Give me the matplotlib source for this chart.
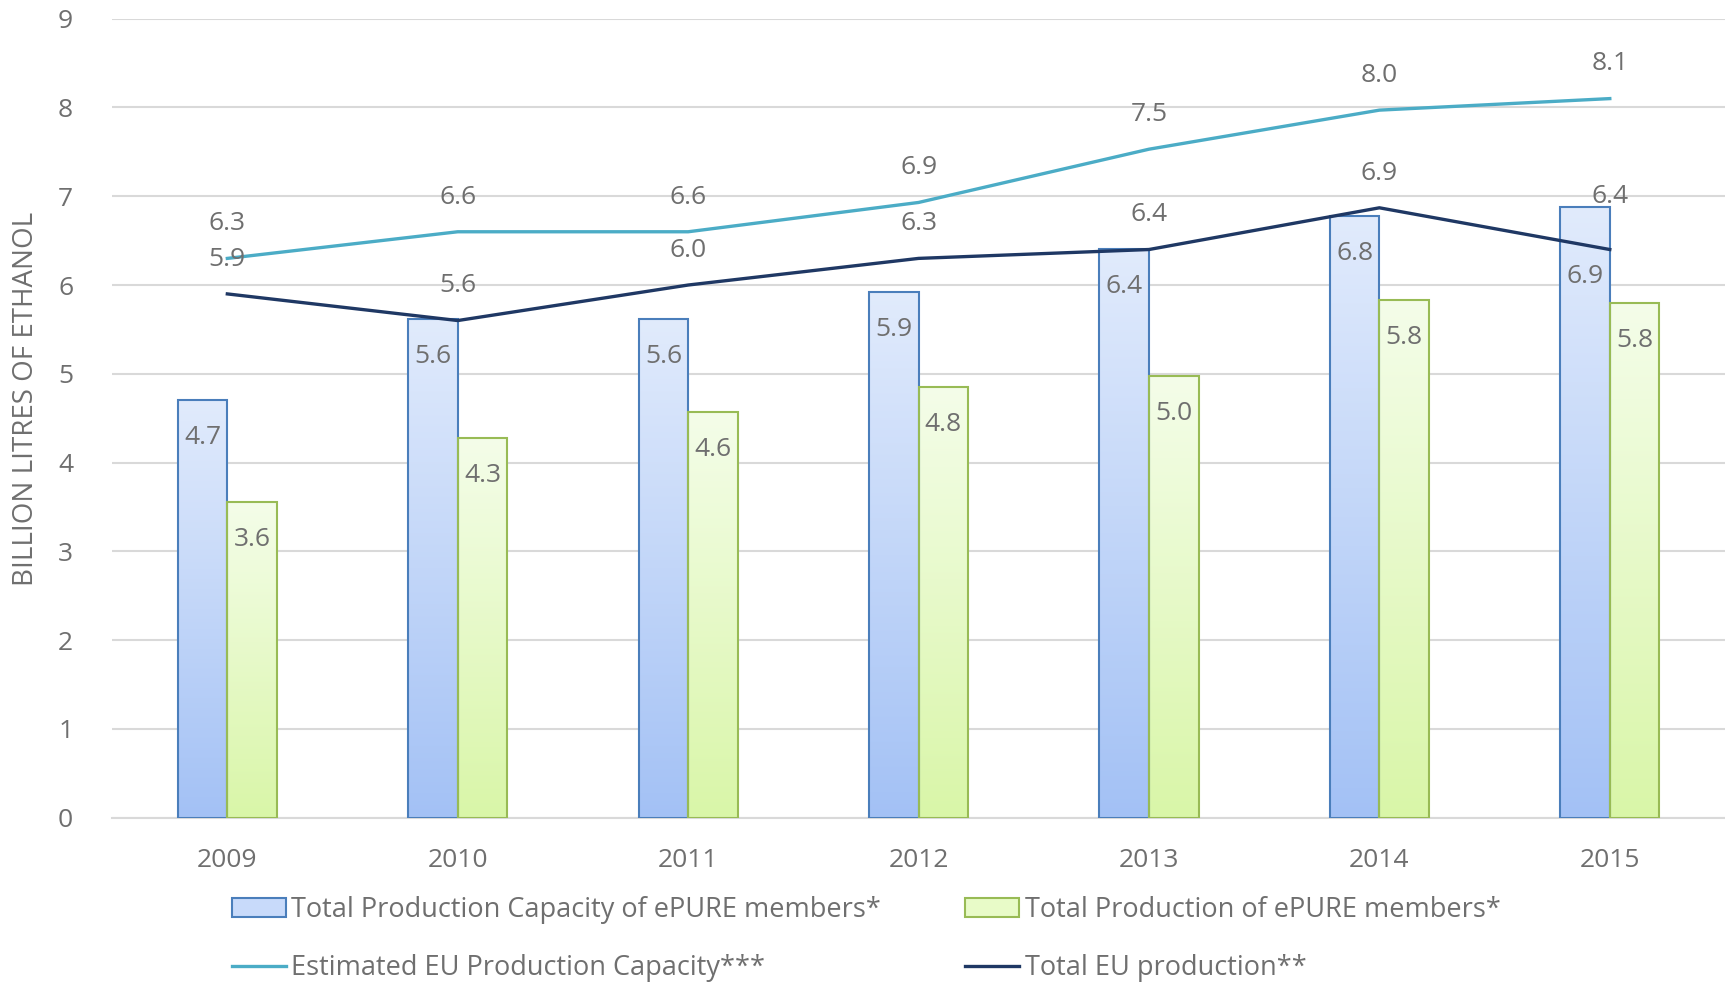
import numpy as np
import matplotlib.pyplot as plt
from matplotlib.patches import Patch
from matplotlib.lines import Line2D

years = ['2009', '2010', '2011', '2012', '2013', '2014', '2015']
capacity_members = [4.7, 5.6, 5.6, 5.9, 6.4, 6.8, 6.9]
production_members = [3.6, 4.3, 4.6, 4.8, 5.0, 5.8, 5.8]
eu_capacity = [6.3, 6.6, 6.6, 6.93, 7.53, 7.97, 8.1]
eu_production = [5.9, 5.6, 6.0, 6.3, 6.4, 6.87, 6.4]

# tops of the bars as drawn (labels are rounded)
capacity_top = [4.7, 5.62, 5.62, 5.92, 6.41, 6.78, 6.88]
production_top = [3.56, 4.28, 4.57, 4.85, 4.97, 5.83, 5.8]

plt.rcParams['font.family'] = ['Open Sans', 'DejaVu Sans']
grey = '#6f6f6f'

fig = plt.figure(figsize=(17.25, 9.84), dpi=100)
ax = fig.add_axes([0.065, 0.169, 0.935, 0.812])

x = np.arange(len(years))
w = 0.215

def gradient_bars(xs, tops, top_col, bot_col, edge):
    bars = ax.bar(xs, tops, width=w, align='edge', facecolor='none',
                  edgecolor=edge, linewidth=1.5, zorder=3)
    c1 = np.array(plt.matplotlib.colors.to_rgb(top_col))
    c2 = np.array(plt.matplotlib.colors.to_rgb(bot_col))
    t = np.linspace(0, 1, 256)[:, None]
    img = (c1 * (1 - t) + c2 * t)[:, None, :]
    for b in bars:
        x0, y0 = b.get_x(), b.get_y()
        im = ax.imshow(img, extent=[x0, x0 + b.get_width(), y0, y0 + b.get_height()],
                       aspect='auto', zorder=2, interpolation='bilinear')
        im.set_clip_path(b)
    return bars

gradient_bars(x - w, capacity_top, '#e1ebfc', '#a3c1f5', '#4a7ebb')
gradient_bars(x, production_top, '#f4fde9', '#d9f6a8', '#98bb55')

last = len(x) - 1
for i in range(len(x)):
    off = -50 if i == last else -27
    ax.annotate(f'{capacity_members[i]:.1f}', (x[i] - w / 2, capacity_top[i]),
                xytext=(0, off), textcoords='offset points', ha='center', va='center',
                fontsize=19, color=grey, zorder=6)
    ax.annotate(f'{production_members[i]:.1f}', (x[i] + w / 2, production_top[i]),
                xytext=(0, -27), textcoords='offset points', ha='center', va='center',
                fontsize=19, color=grey, zorder=6)

ax.plot(x, eu_capacity, color='#4bacc6', linewidth=2.4, zorder=4)
ax.plot(x, eu_production, color='#1f3864', linewidth=2.4, zorder=4)

for i in range(len(x)):
    ax.annotate(f'{eu_capacity[i]:.1f}', (x[i], eu_capacity[i]),
                xytext=(0, 25), textcoords='offset points', ha='center', va='center',
                fontsize=19, color=grey, zorder=6)
    off = 38 if i == last else 25
    ax.annotate(f'{eu_production[i]:.1f}', (x[i], eu_production[i]),
                xytext=(0, off), textcoords='offset points', ha='center', va='center',
                fontsize=19, color=grey, zorder=6)

ax.set_xlim(-0.5, len(x) - 0.5)
ax.set_ylim(0, 9)
ax.set_yticks(range(0, 10))
ax.set_xticks(x)
ax.set_xticklabels(years)
ax.tick_params(axis='both', length=0, labelsize=19, labelcolor=grey)
ax.tick_params(axis='x', pad=22)
ax.tick_params(axis='y', pad=28)
ax.grid(axis='y', color='#d9d9d9', linewidth=1.5, zorder=0)
ax.set_axisbelow(True)
for s in ['top', 'right', 'left']:
    ax.spines[s].set_visible(False)
ax.spines['bottom'].set_color('#d9d9d9')
ax.spines['bottom'].set_linewidth(1.5)

fig.text(0.015, 0.595, 'BILLION LITRES OF ETHANOL', rotation=90, ha='center', va='center',
         fontsize=20, color=grey)

# column-first order for ncol=2
handles = [
    Patch(facecolor='#c8dafa', edgecolor='#4a7ebb', linewidth=1.5),
    Line2D([0], [0], color='#4bacc6', linewidth=2.4),
    Patch(facecolor='#e8fbc8', edgecolor='#98bb55', linewidth=1.5),
    Line2D([0], [0], color='#1f3864', linewidth=2.4),
]
labels = ['Total Production Capacity of ePURE members*', 'Estimated EU Production Capacity***',
          'Total Production of ePURE members*', 'Total EU production**']
fig.legend(handles, labels, loc='upper left', bbox_to_anchor=(0.128, 0.1), ncol=2,
           frameon=False, fontsize=19.5, labelcolor=grey, handlelength=2.0, handletextpad=0.2,
           columnspacing=3.1, labelspacing=1.1, borderaxespad=0)

fig.savefig('out.png', dpi=100)
